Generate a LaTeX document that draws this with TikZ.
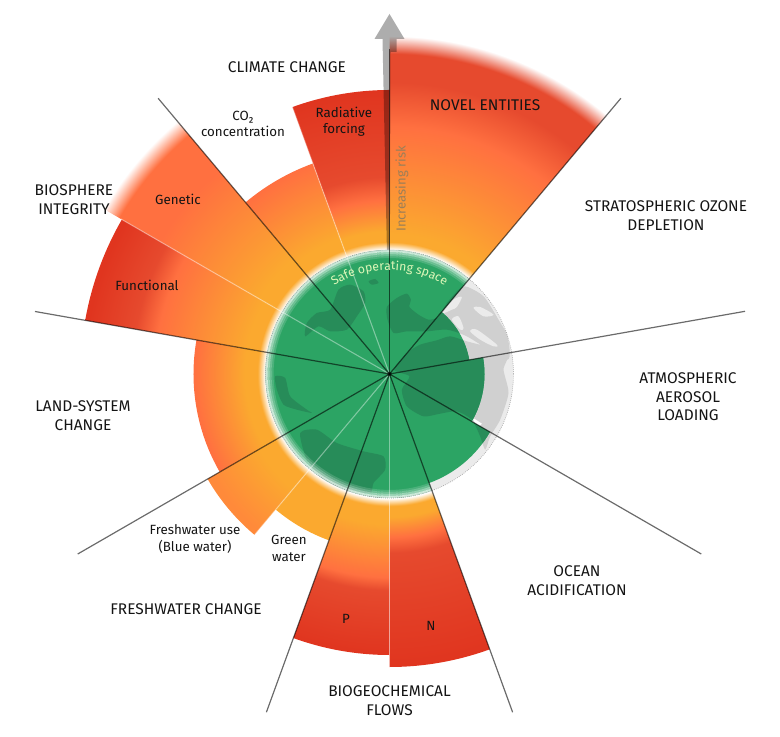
\documentclass[tikz,border=0pt]{standalone}
\usepackage{fontspec}
\setmainfont{Fira Sans}
\usepackage{xcolor}
\usepackage{tikz}
\usetikzlibrary{decorations.text}

\definecolor{safeorange}{HTML}{FBA92F}
\definecolor{midorange}{HTML}{FF8A3A}
\definecolor{riskorange}{HTML}{FF7040}
\definecolor{riskred}{HTML}{E64A2E}
\definecolor{deepred}{HTML}{E0351F}
\definecolor{safegreen}{HTML}{2CA464}
\definecolor{landgreen}{HTML}{278C59}
\definecolor{rimgrey}{HTML}{EBEBEB}
\definecolor{landgrey}{HTML}{D0D0D0}
\definecolor{safetext}{HTML}{DDF7B8}
\definecolor{risktext}{HTML}{9C7F58}
\definecolor{labeltext}{HTML}{141414}

% Radial colour stops, 25bp is a radius of 340
\pgfdeclareradialshading{novelshade}{\pgfpoint{0bp}{0bp}}{color(0bp)=(white); color(9.15bp)=(white); color(9.7bp)=(safeorange); color(10.3bp)=(safeorange); color(18.2bp)=(riskorange); color(21.45bp)=(riskred); color(23.55bp)=(riskred); color(24.85bp)=(white); color(25bp)=(white)}
\pgfdeclareradialshading{geneticshade}{\pgfpoint{0bp}{0bp}}{color(0bp)=(white); color(9.15bp)=(white); color(9.7bp)=(safeorange); color(11.05bp)=(safeorange); color(19.5bp)=(riskorange); color(22.95bp)=(riskorange); color(24.25bp)=(white); color(25bp)=(white)}
\pgfdeclareradialshading{functionalshade}{\pgfpoint{0bp}{0bp}}{color(0bp)=(white); color(9.15bp)=(white); color(9.7bp)=(safeorange); color(10.65bp)=(safeorange); color(17.3bp)=(riskorange); color(18.95bp)=(riskred); color(22.45bp)=(deepred); color(25bp)=(deepred)}
\pgfdeclareradialshading{concentrationshade}{\pgfpoint{0bp}{0bp}}{color(0bp)=(white); color(9.15bp)=(white); color(9.7bp)=(safeorange); color(10.65bp)=(safeorange); color(16.45bp)=(riskorange); color(25bp)=(riskorange)}
\pgfdeclareradialshading{radiativeshade}{\pgfpoint{0bp}{0bp}}{color(0bp)=(white); color(9.15bp)=(white); color(9.7bp)=(safeorange); color(10.5bp)=(safeorange); color(12.8bp)=(riskorange); color(14.5bp)=(riskred); color(20.9bp)=(deepred); color(25bp)=(deepred)}
\pgfdeclareradialshading{landshade}{\pgfpoint{0bp}{0bp}}{color(0bp)=(white); color(9.15bp)=(white); color(9.7bp)=(safeorange); color(10.65bp)=(safeorange); color(14.35bp)=(riskorange); color(25bp)=(riskorange)}
\pgfdeclareradialshading{blueshade}{\pgfpoint{0bp}{0bp}}{color(0bp)=(white); color(9.15bp)=(white); color(9.7bp)=(safeorange); color(11.05bp)=(safeorange); color(15bp)=(midorange); color(25bp)=(midorange)}
\pgfdeclareradialshading{greenwatershade}{\pgfpoint{0bp}{0bp}}{color(0bp)=(white); color(9.15bp)=(white); color(9.7bp)=(safeorange); color(25bp)=(safeorange)}
\pgfdeclareradialshading{phosphorusshade}{\pgfpoint{0bp}{0bp}}{color(0bp)=(white); color(9.15bp)=(white); color(9.7bp)=(safeorange); color(11.05bp)=(safeorange); color(14.95bp)=(riskorange); color(15.9bp)=(riskred); color(20.65bp)=(deepred); color(25bp)=(deepred)}
\pgfdeclareradialshading{nitrogenshade}{\pgfpoint{0bp}{0bp}}{color(0bp)=(white); color(9.15bp)=(white); color(9.7bp)=(safeorange); color(10.5bp)=(safeorange); color(12bp)=(riskorange); color(13.15bp)=(riskred); color(21.55bp)=(deepred); color(25bp)=(deepred)}

% Continents, in the quarter-point units of the globe scope
\newcommand{\landmass}{
  plot[smooth cycle,tension=.4] coordinates {(412,300) (410,262) (440,235) (470,222) (482,240) (478,262) (505,285) (535,300) (565,292) (590,250) (640,200) (700,230) (745,300) (772,350) (772,420) (650,350) (590,330) (530,335) (470,335) (430,340)}
  plot[smooth cycle,tension=.4] coordinates {(470,400) (510,375) (560,362) (600,350) (650,365) (770,400) (760,450) (775,520) (750,600) (720,650) (705,690) (690,650) (665,600) (620,575) (570,582) (520,590) (470,560) (455,510) (478,470) (432,450)}
  plot[smooth cycle,tension=.4] coordinates {(165,350) (170,310) (200,280) (240,270) (265,210) (300,195) (340,215) (345,250) (320,290) (290,330) (240,335) (205,320)}
  plot[smooth cycle,tension=.4] coordinates {(355,185) (375,178) (385,190) (365,195)}
  plot[smooth cycle,tension=.4] coordinates {(75,470) (105,475) (120,530) (170,570) (185,580) (140,570) (100,555) (80,510)}
  plot[smooth cycle,tension=.4] coordinates {(150,640) (200,630) (260,670) (340,695) (400,710) (405,750) (370,790) (360,820) (290,810) (220,780) (170,720)}
}

\begin{document}
\begin{tikzpicture}[
    x=.75pt, y=.75pt,
    heading/.style={align=center, text=labeltext, font=\fontsize{11.6}{14}\selectfont},
    sublabel/.style={align=center, text=labeltext, font=\fontsize{10}{12.2}\selectfont},
    spoke/.style={draw=black, opacity=.58, line width=.9pt},
    divider/.style={draw=white, opacity=.4, line width=.8pt},
    greyland/.style={fill=landgrey},
    greenland/.style={fill=landgreen},
    lightsea/.style={fill=rimgrey},
    globe/.style={x=.25pt, y=-.25pt, shift={(-104.5pt,115.75pt)}}
]
\useasboundingbox (-389.5,-363) rectangle (390.5,374);
\coordinate (hub) at (0,0);

% Boundary wedges
\foreach \from/\to/\rad/\colours in {
    50/90/338/novelshade, 90/110/284/radiativeshade, 110/130/224/concentrationshade,
    130/150/335/geneticshade, 150/170/309/functionalshade, 170/210/196/landshade,
    210/230/210/blueshade, 230/250/177/greenwatershade, 250/270/281/phosphorusshade,
    270/290/293/nitrogenshade} {
  \begin{scope}
    \clip (hub) -- (\from:\rad) arc (\from:\to:\rad) -- cycle;
    \shade[shading=\colours] (hub) circle (340);
  \end{scope}
}

% Risk arrow
\fill[black, opacity=.32] (0,360) -- (15,335) -- (7,335) -- (7,322) -- (1,322) -- (0,0) -- (-7,335) -- (-15,335) -- cycle;

% Globe, grey part
\fill[rimgrey] (hub) circle (124);
\begin{scope}
  \clip (hub) circle (124);
  \begin{scope}[globe]
    \fill[greyland] \landmass;
    \fill[lightsea] plot[smooth cycle,tension=.5] coordinates {(578,280) (610,240) (635,232) (620,262) (605,270)};
    \fill[lightsea] plot[smooth cycle,tension=.5] coordinates {(605,300) (625,290) (640,325) (630,330)};
    \fill[lightsea] plot[smooth cycle,tension=.5] coordinates {(660,335) (680,330) (740,375) (730,380) (690,360)};
    \fill[lightsea] plot[smooth cycle,tension=.5] coordinates {(670,265) (690,262) (730,285) (700,290)};
    \fill[white] (665,592) -- (695,612) -- (682,625) -- cycle;
  \end{scope}
\end{scope}

% Globe, safe operating space
\begin{scope}
  \path[clip] (hub) -- (50:81) arc (50:10:81) -- (10:95) arc (10:-30:95) -- (-30:116) arc (-30:-70:116) -- (-70:124) arc (-70:-310:124) -- cycle;
  \fill[safegreen] (hub) circle (124);
  \begin{scope}[globe]
    \fill[greenland] \landmass;
  \end{scope}
\end{scope}
\foreach \r/\o in {117/.15, 119/.3, 121/.5, 123/.75}
  \draw[white, opacity=\o, line width=1.6pt] (50:\r) arc (50:290:\r);
\draw[gray!80, densely dotted, line width=.5pt] (hub) circle (124);

% Dividers inside the boundaries
\foreach \a/\rad in {110/285, 150/310, 230/210, 270/281} {
  \coordinate (part\a) at (\a:\rad);
  \draw[divider] (hub) -- (part\a);
}

% Spokes
\foreach \a/\rad in {90/325, 50/360, 10/361, -30/360, -70/360, -110/360, -150/360, 170/360, 130/360} {
  \coordinate (tip\a) at (\a:\rad);
  \draw[spoke] (hub) -- (tip\a);
}
\fill[black, opacity=.5] (hub) circle (2.2);

% Curved and rotated labels
\path[decorate, decoration={text along path, text align=center,
    text={|\fontsize{9.2}{9.2}\selectfont\color{safetext}|Safe operating space}}]
  (124:104) arc (124:56:104);
\node[font=\fontsize{9.8}{12}\selectfont, text=risktext, rotate=90] (risk) at (12.5,185) {Increasing risk};

% Boundary names
\node[heading] (climate) at (-102.5,307) {CLIMATE CHANGE};
\node[heading] (novel) at (95.5,269) {NOVEL ENTITIES};
\node[heading] (ozone) at (276.5,158) {STRATOSPHERIC OZONE\\DEPLETION};
\node[heading] (aerosol) at (298.5,-23) {ATMOSPHERIC\\AEROSOL\\LOADING};
\node[heading] (ocean) at (187.5,-206.5) {OCEAN\\ACIDIFICATION};
\node[heading] (flows) at (0,-326.5) {BIOGEOCHEMICAL\\FLOWS};
\node[heading] (freshwater) at (-203.5,-235) {FRESHWATER CHANGE};
\node[heading] (landsystem) at (-306.5,-42) {LAND-SYSTEM\\CHANGE};
\node[heading] (biosphere) at (-315.5,174) {BIOSPHERE\\INTEGRITY};

% Control variables
\node[sublabel] (co2) at (-146.5,250) {CO₂\\concentration};
\node[sublabel] (radiative) at (-45.5,252) {Radiative\\forcing};
\node[sublabel] (genetic) at (-211.5,175) {Genetic};
\node[sublabel] (functional) at (-242.5,89) {Functional};
\node[sublabel] (bluewater) at (-194.5,-165) {Freshwater use\\(Blue water)};
\node[sublabel] (greenwater) at (-100.5,-174.5) {Green\\water};
\node[sublabel] (phosphorus) at (-43.5,-245) {P};
\node[sublabel] (nitrogen) at (41.5,-252) {N};

\end{tikzpicture}
\end{document}
